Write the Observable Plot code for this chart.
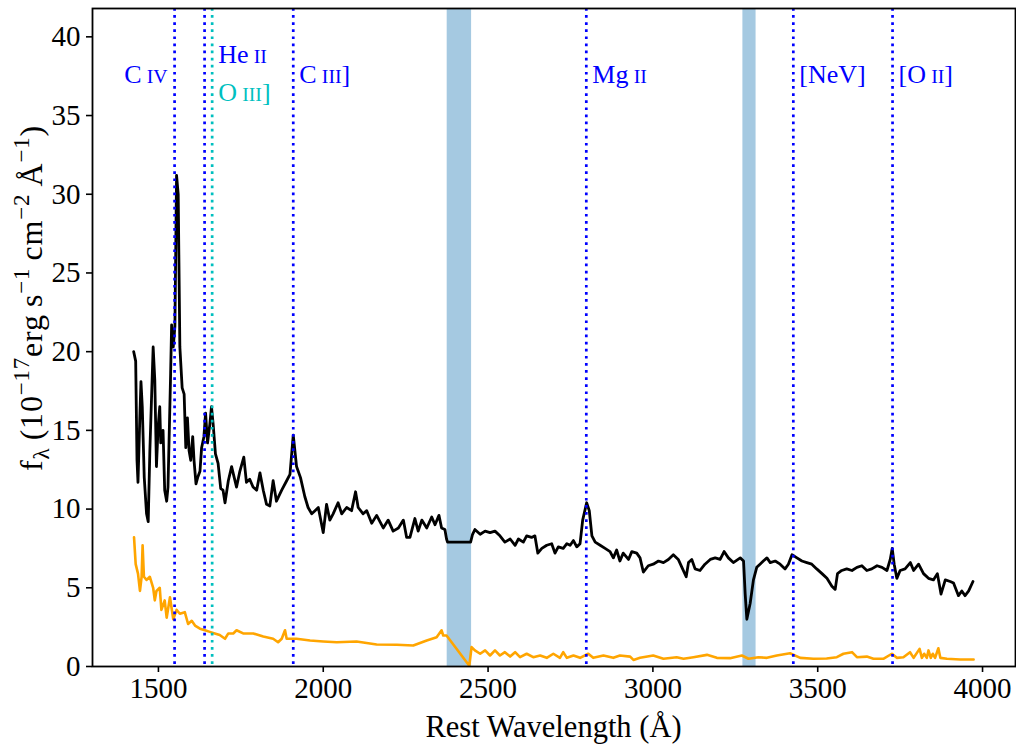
<!DOCTYPE html>
<html><head><meta charset="utf-8">
<script src="https://cdn.jsdelivr.net/npm/d3@7"></script>
<script src="https://cdn.jsdelivr.net/npm/@observablehq/plot@0.6"></script>
<style>body{margin:0;background:#fff}#chart{width:1016px;height:747px}</style>
</head><body><div id="chart"></div>
<script>
// Observed spectrum: [rest wavelength (Å), f_lambda]
const spectrumPoints = [[1425,20.0],[1431,19.4],[1435,13.1],[1438,11.7],[1444,16.1],[1447,18.1],[1451,16.5],[1457,12.0],[1464,9.7],[1469,9.2],
[1474,13.7],[1484,20.3],[1489,18.2],[1494,12.7],[1499,15.2],[1504,16.5],[1507,14.2],[1514,15.0],[1519,11.2],[1525,10.5],
[1529,11.4],[1537,18.6],[1540,21.7],[1545,20.3],[1550,21.6],[1555,31.2],[1560,30.0],[1565,20.3],[1572,17.7],[1578,17.3],
[1583,13.9],[1588,15.8],[1593,13.7],[1598,13.1],[1604,14.6],[1608,13.1],[1614,11.6],[1619,12.0],[1626,12.4],[1631,13.9],
[1638,14.6],[1643,16.1],[1649,14.2],[1656,15.4],[1661,16.5],[1666,15.4],[1673,13.5],[1681,12.9],[1689,11.3],[1696,11.2],
[1702,10.4],[1712,11.8],[1722,12.7],[1730,12.0],[1737,11.4],[1747,12.4],[1759,13.3],[1767,11.7],[1777,11.9],[1787,11.4],
[1798,11.2],[1808,12.3],[1818,11.2],[1828,10.3],[1838,10.2],[1848,11.8],[1858,10.5],[1874,11.2],[1889,11.8],[1899,12.2],
[1909,14.7],[1919,12.7],[1931,12.0],[1944,10.8],[1954,10.1],[1965,9.7],[1975,9.9],[1985,10.1],[2000,8.5],[2010,10.3],
[2020,9.3],[2030,9.7],[2045,10.4],[2056,9.7],[2071,10.1],[2086,9.9],[2098,11.1],[2106,10.1],[2121,9.7],[2132,9.9],
[2147,9.1],[2162,9.6],[2182,8.8],[2197,9.3],[2212,8.6],[2228,8.8],[2243,9.3],[2253,8.2],[2263,8.2],[2278,9.4],
[2288,8.6],[2299,9.3],[2314,8.8],[2329,9.5],[2339,9.0],[2351,9.6],[2359,8.8],[2369,8.7],[2374,8.1],[2377,7.9],
[2447,7.9],[2453,8.4],[2460,8.7],[2476,8.4],[2491,8.6],[2506,8.5],[2521,8.6],[2536,8.3],[2551,7.9],[2567,8.1],
[2582,7.7],[2592,8.1],[2607,7.9],[2617,8.3],[2632,8.2],[2642,8.3],[2651,7.2],[2663,7.5],[2678,7.7],[2693,7.8],
[2703,7.2],[2713,7.6],[2728,7.5],[2739,7.8],[2749,7.7],[2759,8.0],[2769,7.6],[2779,7.8],[2787,9.3],[2799,10.4],
[2807,9.9],[2815,8.3],[2825,7.9],[2840,7.7],[2855,7.5],[2870,7.3],[2880,6.9],[2890,7.4],[2900,6.7],[2910,7.2],
[2926,6.8],[2936,7.3],[2951,7.2],[2961,6.9],[2971,6.0],[2986,6.4],[3001,6.5],[3017,6.7],[3032,6.6],[3047,6.8],
[3062,7.1],[3077,6.8],[3088,6.3],[3101,5.7],[3108,6.6],[3118,6.8],[3128,6.2],[3143,6.1],[3158,6.5],[3174,6.8],
[3189,6.9],[3204,6.8],[3216,7.3],[3229,6.9],[3244,6.6],[3265,6.9],[3275,6.7],[3280,4.6],[3285,3.0],[3295,4.0],
[3305,5.5],[3315,6.3],[3325,6.5],[3335,6.7],[3346,6.9],[3356,6.6],[3371,6.7],[3386,6.5],[3401,6.2],[3411,6.5],
[3422,7.1],[3437,6.9],[3452,6.7],[3467,6.6],[3482,6.5],[3497,6.2],[3513,5.9],[3528,5.6],[3543,5.1],[3553,4.9],
[3560,5.9],[3573,6.1],[3588,6.2],[3604,6.1],[3619,6.3],[3634,6.4],[3649,6.1],[3664,6.2],[3680,6.4],[3695,6.3],
[3710,6.1],[3720,6.8],[3726,7.5],[3732,6.5],[3740,5.6],[3750,6.1],[3765,6.2],[3781,6.6],[3791,6.1],[3806,6.5],
[3821,5.9],[3836,5.6],[3851,5.5],[3863,5.9],[3874,4.6],[3887,5.5],[3902,5.4],[3912,5.3],[3927,4.5],[3937,4.8],
[3947,4.5],[3958,4.8],[3971,5.4]];

// Error spectrum: [rest wavelength (Å), sigma]
const errorPoints = [[1426,8.2],[1431,6.5],[1438,5.9],[1444,4.8],[1449,5.7],[1452,7.7],[1456,5.7],[1464,5.5],[1474,5.7],[1484,5.0],
[1489,4.2],[1494,4.8],[1504,5.0],[1509,3.6],[1519,4.2],[1525,3.1],[1535,4.4],[1545,3.0],[1555,3.6],[1565,3.35],
[1580,3.45],[1590,2.7],[1601,2.9],[1611,2.6],[1626,2.4],[1641,2.3],[1656,2.2],[1671,2.1],[1686,2.0],[1702,1.76],
[1712,2.1],[1727,2.1],[1737,2.3],[1757,2.1],[1788,2.1],[1818,1.9],[1848,1.76],[1863,1.54],[1874,1.76],[1884,2.3],
[1889,1.76],[1919,1.76],[1960,1.65],[2000,1.59],[2041,1.54],[2101,1.59],[2162,1.4],[2223,1.38],[2273,1.33],[2314,1.65],
[2344,1.86],[2359,2.3],[2364,1.97],[2374,1.97],[2443,0.05],[2450,1.23],[2460,1.02],[2476,0.81],[2491,1.02],[2506,0.7],
[2521,1.02],[2536,0.7],[2551,0.91],[2567,0.63],[2582,0.91],[2597,0.59],[2617,0.81],[2637,0.59],[2658,0.7],[2678,0.55],
[2698,0.81],[2718,0.55],[2728,0.91],[2739,0.55],[2759,0.7],[2779,0.55],[2804,0.81],[2819,0.55],[2850,0.7],[2880,0.55],
[2900,0.7],[2931,0.63],[2941,0.42],[2961,0.55],[3001,0.7],[3032,0.49],[3072,0.59],[3093,0.49],[3123,0.59],[3164,0.74],
[3194,0.55],[3234,0.53],[3270,0.7],[3290,0.49],[3320,0.59],[3346,0.55],[3376,0.7],[3416,0.84],[3447,0.55],[3487,0.49],
[3527,0.51],[3558,0.59],[3578,0.81],[3604,0.91],[3619,0.59],[3649,0.63],[3669,0.49],[3699,0.49],[3725,0.81],[3740,0.55],
[3760,0.59],[3780,0.91],[3791,0.55],[3809,1.12],[3816,0.55],[3823,0.81],[3831,0.55],[3836,1.02],[3843,0.55],[3849,0.81],
[3856,0.55],[3866,1.16],[3872,0.55],[3892,0.49],[3932,0.44],[3973,0.44]];

// Emission lines
const lineWaves  = [1549, 1640, 1663, 1909, 2798, 3426, 3727];
const lineColors = ["#0000ff", "#0000ff", "#00bfbf", "#0000ff", "#0000ff", "#0000ff", "#0000ff"];
// Line labels
const labelTexts  = ["C IV", "He II", "O III]", "C III]", "Mg II", "[NeV]", "[O II]"];
const labelWaves  = [1549, 1663, 1663, 1909, 2798, 3426, 3727];
const labelLevels = [37.6, 38.85, 36.45, 37.6, 37.6, 37.6, 37.6];
const labelColors = ["#0000ff", "#0000ff", "#00bfbf", "#0000ff", "#0000ff", "#0000ff", "#0000ff"];
const labelSides  = ["left", "right", "right", "right", "right", "right", "right"];
// Masked bands
const bandLo = [2376, 3273];
const bandHi = [2450, 3313];
// Axes
const xDomain = [1300, 4100];
const yDomain = [0, 41.8];
const xTicks = [1500, 2000, 2500, 3000, 3500, 4000];
const yTicks = [0, 5, 10, 15, 20, 25, 30, 35, 40];

const spec = spectrumPoints.map(([w, f]) => ({w, f}));
const err = errorPoints.map(([w, f]) => ({w, f}));
const lines = lineWaves.map((w, i) => ({w, color: lineColors[i]}));
const bands = bandLo.map((lo, i) => ({lo, hi: bandHi[i]}));
const labels = labelTexts.map((t, i) => ({t, w: labelWaves[i], y: labelLevels[i], color: labelColors[i], side: labelSides[i]}));

const font = "'Liberation Serif', 'DejaVu Serif', serif";
const chart = Plot.plot({
  width: 1016, height: 747,
  marginLeft: 92, marginRight: 1, marginTop: 8, marginBottom: 81,
  style: {fontFamily: font, fontSize: "29px", background: "white", color: "black", overflow: "visible"},
  x: {domain: xDomain},
  y: {domain: yDomain},
  color: {type: "identity"},
  marks: [
    Plot.rect(bands, {x1: "lo", x2: "hi", fill: "#1f77b4", fillOpacity: 0.4}),
    Plot.line(spec, {x: "w", y: "f", stroke: "black", strokeWidth: 2.8, strokeLinejoin: "round"}),
    Plot.line(err, {x: "w", y: "f", stroke: "#ffa500", strokeWidth: 2.6, strokeLinejoin: "round"}),
    Plot.ruleX(lines, {x: "w", stroke: "color", strokeWidth: 2.7, strokeDasharray: "2.7,4.4"}),
    Plot.text(labels.filter(d => d.side === "left"), {x: "w", y: "y", text: "t", fill: "color", textAnchor: "end", dx: -7, fontSize: 26}),
    Plot.text(labels.filter(d => d.side === "right"), {x: "w", y: "y", text: "t", fill: "color", textAnchor: "start", dx: 6, fontSize: 26}),
    Plot.frame({stroke: "black", strokeWidth: 1.8}),
    Plot.axisX({ticks: xTicks, tickFormat: d3.format("d"), tickSize: 6, tickPadding: 5, label: null, strokeWidth: 1.6, fontSize: 29}),
    Plot.axisY({ticks: yTicks, tickFormat: d3.format("d"), tickSize: 6, tickPadding: 6, label: null, strokeWidth: 1.6, fontSize: 29})
  ]
});
document.getElementById("chart").appendChild(chart);

const svg = d3.select(chart);
// small-caps roman numerals for ion stages
svg.selectAll('g[aria-label="text"] text').each(function() {
  const t = this.textContent;
  const m = t.match(/^(.*\S)\s([IV]+)(\]?)$/);
  if (!m) return;
  const sel = d3.select(this);
  sel.text(null);
  sel.append("tspan").text(m[1] + "\u2009");
  sel.append("tspan").attr("font-size", "0.76em").text(m[2]);
  if (m[3]) sel.append("tspan").text(m[3]);
});

// x axis label
svg.append("text").attr("x", 553.5).attr("y", 737).attr("text-anchor", "middle")
  .attr("font-size", 30.5).attr("fill", "black").text("Rest Wavelength (Å)");

// y axis label with sub/superscripts
const yl = svg.append("text").attr("transform", "translate(42,298) rotate(-90)")
  .attr("text-anchor", "middle").attr("font-size", 32).attr("letter-spacing", 0.8).attr("fill", "black");
const parts = [
  ["f", 0, null], ["λ", 7, 23], ["\u2009(10", -7, null], ["\u221217", -13, 23], ["erg\u2009s", 13, null],
  ["\u22121", -13, 23], ["\u2009cm", 13, null], ["\u22122", -13, 23], ["\u2009Å", 13, null], ["\u22121", -13, 23], [")", 13, null]
];
parts.forEach(([txt, dy, fs]) => {
  const ts = yl.append("tspan").attr("dy", dy).text(txt);
  if (fs) ts.attr("font-size", fs);
});
</script>
</body></html>
